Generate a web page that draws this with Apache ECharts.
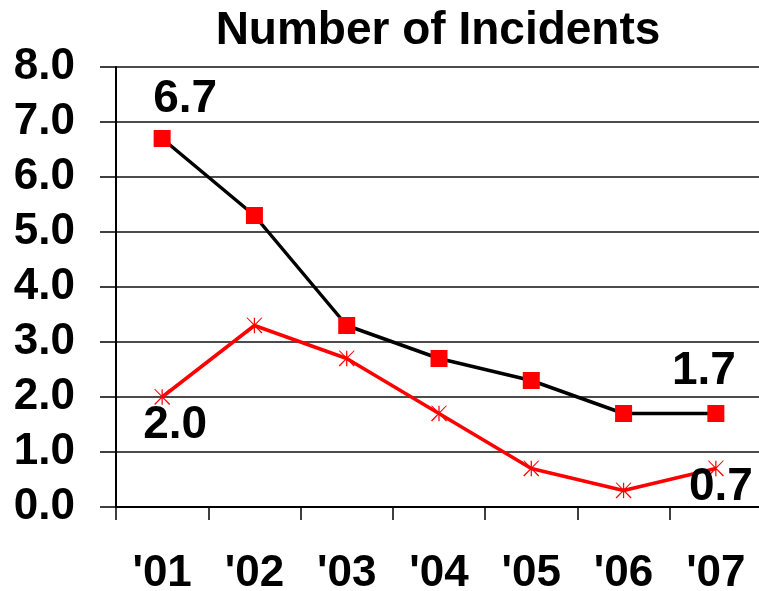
<!DOCTYPE html>
<html style="height: 100%">
<head>
<meta charset="utf-8">
<title>Number of Incidents</title>
<script src="https://cdn.jsdelivr.net/npm/echarts@6/dist/echarts.min.js"></script>
</head>
<body style="height: 100%; margin: 0">
<div id="container" style="width: 759px; height: 591px"></div>
<script type="text/javascript">
var years = ["'01", "'02", "'03", "'04", "'05", "'06", "'07"];
var blackValues = [6.7, 5.3, 3.3, 2.7, 2.3, 1.7, 1.7];
var redValues = [2.0, 3.3, 2.7, 1.7, 0.7, 0.3, 0.7];

var asterisk = 'path://M9.3 0L10.7 0L10.7 20L9.3 20Z' +
    'M1 0L2.1 -0.3L19 19L17.9 20.3Z' +
    'M17.9 -0.3L19 0L2.1 20.3L1 19Z';

var fontName = 'Liberation Sans, Arial, sans-serif';

function valueLabel(position, offset) {
    return {
        show: true,
        position: position,
        offset: offset,
        fontFamily: fontName,
        fontWeight: 'bold',
        fontSize: 46,
        color: '#000',
        formatter: function (p) { return p.value.toFixed(1); }
    };
}

var blackData = blackValues.map(function (v, i) {
    var d = {value: v};
    if (i === 0) d.label = valueLabel('top', [23, -3]);
    if (i === blackValues.length - 1) d.label = valueLabel('top', [-12, -6]);
    return d;
});
var redData = redValues.map(function (v, i) {
    var d = {value: v};
    if (i === 0) d.label = valueLabel('bottom', [13, -8]);
    if (i === redValues.length - 1) d.label = valueLabel('bottom', [5, -17]);
    return d;
});

var myChart = echarts.init(document.getElementById('container'));
var option = {
    animation: false,
    backgroundColor: '#fff',
    title: {
        text: 'Number of Incidents',
        left: 433,
        textAlign: 'center',
        top: 3,
        textStyle: {
            fontFamily: fontName,
            fontWeight: 'bold',
            fontSize: 46,
            color: '#000'
        }
    },
    grid: {left: 116, right: -3, top: 67, bottom: 84, containLabel: false, outerBoundsMode: 'none'},
    xAxis: {
        type: 'category',
        data: years,
        boundaryGap: true,
        axisLine: {lineStyle: {color: '#000', width: 2}},
        axisTick: {show: true, length: 13, lineStyle: {color: '#000', width: 1.5}},
        axisLabel: {
            margin: 45,
            fontFamily: fontName,
            fontWeight: 'bold',
            fontSize: 44,
            color: '#000'
        }
    },
    yAxis: {
        type: 'value',
        min: 0,
        max: 8,
        interval: 1,
        axisLine: {show: true, lineStyle: {color: '#000', width: 2}},
        axisTick: {show: true, inside: false, length: 16, lineStyle: {color: '#000', width: 1.5}},
        splitLine: {lineStyle: {color: '#111', width: 1.5}},
        axisLabel: {
            margin: 41,
            formatter: function (v) { return v.toFixed(1); },
            fontFamily: fontName,
            fontWeight: 'bold',
            fontSize: 44,
            color: '#000'
        }
    },
    series: [
        {
            name: 'black',
            type: 'line',
            data: blackData,
            symbol: 'rect',
            symbolSize: 17,
            lineStyle: {color: '#000', width: 3.5},
            itemStyle: {color: '#ff0000', borderWidth: 0},
            z: 3
        },
        {
            name: 'red',
            type: 'line',
            data: redData,
            symbol: asterisk,
            symbolSize: 16,
            lineStyle: {color: '#ff0000', width: 3.5},
            itemStyle: {color: '#ff0000', borderWidth: 0},
            z: 2
        }
    ]
};
myChart.setOption(option);
</script>
</body>
</html>
